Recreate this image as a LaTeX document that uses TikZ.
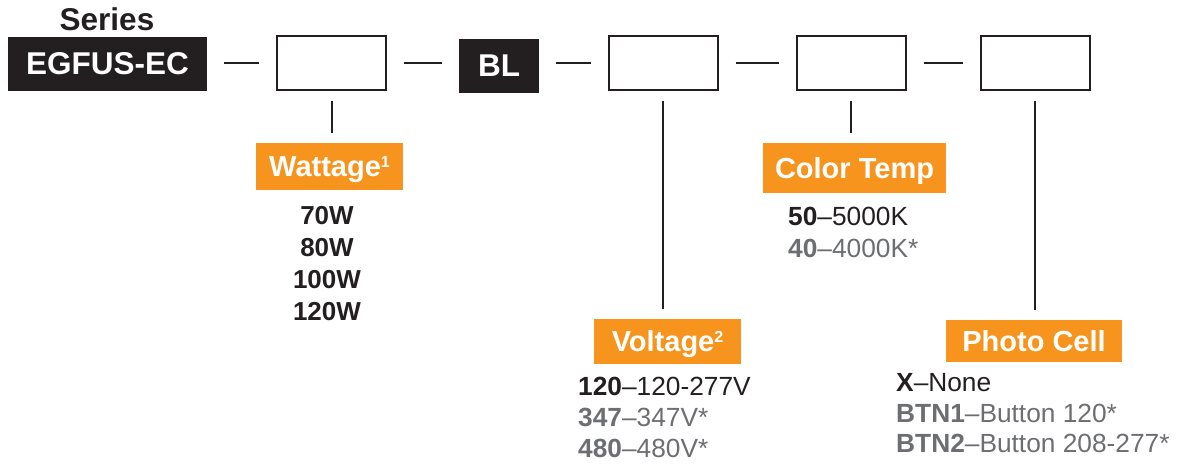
\documentclass[tikz,border=0pt]{standalone}
\usepackage{fontspec}
\setmainfont{Liberation Sans}
\usetikzlibrary{calc}

\definecolor{codeblack}{RGB}{35,31,32}
\definecolor{codeorange}{RGB}{247,148,29}
\definecolor{codegray}{RGB}{109,110,113}
\newcommand{\fsz}[1]{\fontsize{#1}{#1}\selectfont}
\newcommand{\supnum}[1]{\raisebox{9pt}{\fsz{16}#1}}

\tikzset{
  blackbox/.style={fill=codeblack, text=white, font=\fsz{31.5}\bfseries, inner sep=0pt, minimum height=54pt},
  emptybox/.style={draw=codeblack, line width=2pt, minimum width=109pt, minimum height=54pt, inner sep=0pt},
  tag/.style={fill=codeorange, text=white, font=\fsz{29}\bfseries, inner sep=0pt, text height=20.5pt, text depth=0pt},
  option/.style={font=\fsz{26.3}, text=codeblack, inner sep=0pt, anchor=base west},
  greyoption/.style={option, text=codegray},
  link/.style={codeblack, line width=2pt, shorten <=17pt, shorten >=17pt},
  drop/.style={codeblack, line width=2pt, shorten <=10pt, shorten >=10pt}
}

\begin{document}
\begin{tikzpicture}[x=1pt, y=-1pt]
  \useasboundingbox (0,0) rectangle (1178,466);
  % ordering code row
  \node[font=\fsz{31.5}\bfseries, text=codeblack, anchor=base, inner sep=0pt] (series) at (107,30) {Series};
  \node[blackbox, minimum width=199pt] (fam) at (107.5,64) {EGFUS-EC};
  \node[emptybox] (watt) at (331.5,63) {};
  \node[blackbox, minimum width=80pt] (bl) at (499,66) {BL};
  \node[emptybox] (volt) at (663,63) {};
  \node[emptybox] (cct) at (851,63) {};
  \node[emptybox] (pc) at (1035,63) {};
  % dashes between the fields
  \draw[link] (fam.east |- watt.west) -- (watt.west);
  \draw[link] (watt.east) -- (watt.east -| bl.west);
  \draw[link] (bl.east |- volt.west) -- (volt.west);
  \draw[link] (volt.east) -- (cct.west);
  \draw[link] (cct.east) -- (pc.west);
  % orange tags
  \node[tag, minimum width=147pt, minimum height=47pt] (wattT) at (329.5,166.5) {Wattage\supnum{1}};
  \node[tag, minimum width=183pt, minimum height=50pt] (cctT) at (854.5,168) {Color Temp};
  \node[tag, minimum width=147pt, minimum height=45pt] (voltT) at (667.5,341.5) {Voltage\supnum{2}};
  \node[tag, minimum width=176pt, minimum height=42pt] (pcT) at (1034,341) {Photo Cell};
  % drops
  \draw[drop] (watt.south) -- (watt.south |- wattT.north);
  \draw[drop] (volt.south) -- (volt.south |- voltT.north);
  \draw[drop] (cct.south) -- (cct.south |- cctT.north);
  \draw[drop] (pc.south) -- (pc.south |- pcT.north);
  % wattage options
  \foreach \w [count=\i] in {70W,80W,100W,120W}
    \node[option, anchor=base, font=\fsz{26}\bfseries] (wattO\i) at (327,{192+32*\i}) {\w};
  % color temp options
  \node[option] (cctO1) at (788,225) {\textbf{50}\textendash5000K};
  \node[greyoption] (cctO2) at (788,257) {\textbf{40}\textendash4000K*};
  % voltage options
  \node[option] (voltO1) at (578,395) {\textbf{120}\textendash120-277V};
  \node[greyoption] (voltO2) at (578,426) {\textbf{347}\textendash347V*};
  \node[greyoption] (voltO3) at (578,457) {\textbf{480}\textendash480V*};
  % photo cell options
  \node[option] (pcO1) at (896,391) {\textbf{X}\textendash None};
  \node[greyoption] (pcO2) at (896,422) {\textbf{BTN1}\textendash Button 120*};
  \node[greyoption] (pcO3) at (896,452) {\textbf{BTN2}\textendash Button 208-277*};
\end{tikzpicture}
\end{document}
